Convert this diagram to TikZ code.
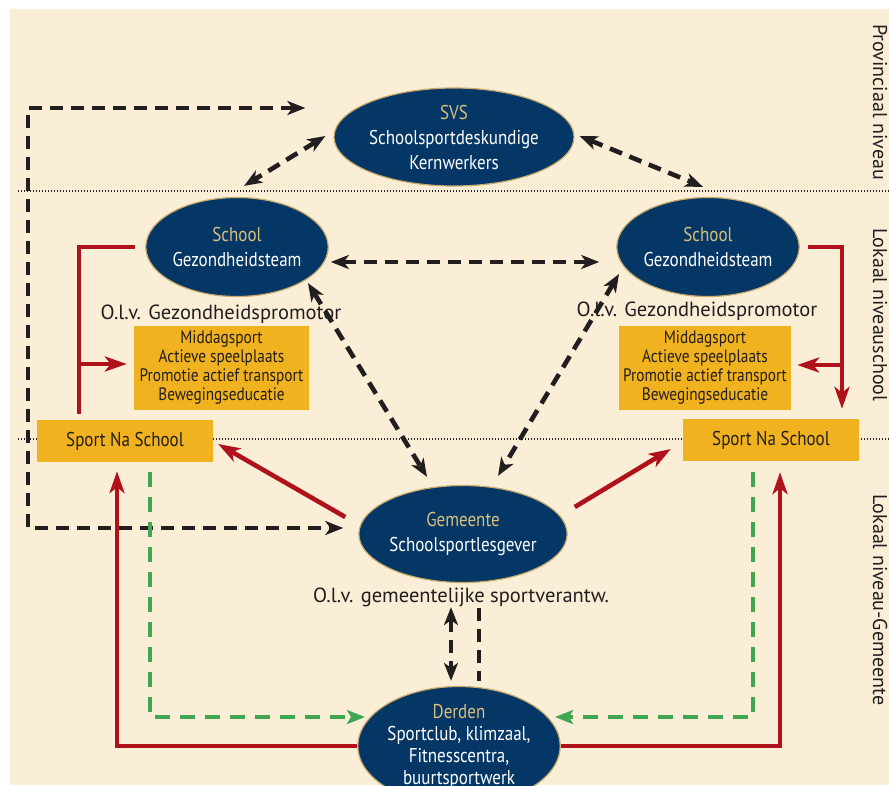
\documentclass[tikz,border=0pt]{standalone}
\usepackage{fontspec}
\setmainfont{PT Sans}
\newfontfamily\condfont[FakeStretch=0.85]{PT Sans}
\usetikzlibrary{arrows.meta,shapes.geometric}

\definecolor{cream}{RGB}{250,238,214}
\definecolor{navy}{RGB}{5,55,102}
\definecolor{rimgold}{RGB}{201,170,106}
\definecolor{labgold}{RGB}{217,190,124}
\definecolor{boxorange}{RGB}{241,178,32}
\definecolor{linered}{RGB}{176,18,27}
\definecolor{linegreen}{RGB}{64,166,82}
\definecolor{inkblack}{RGB}{34,30,31}

\tikzset{
  actor/.style={ellipse, fill=navy, draw=rimgold, line width=1.2pt, text=white, align=center, inner sep=0pt, font=\condfont\fontsize{20}{25}\selectfont},
  taskbox/.style={fill=boxorange, inner sep=0pt, align=center, text=inkblack},
  lead/.style={text=inkblack, inner sep=0pt, font=\fontsize{20.5}{24}\selectfont},
  levellabel/.style={rotate=-90, text=inkblack, inner sep=0pt, font=\fontsize{20}{24}\selectfont},
  levelline/.style={draw=inkblack, line width=1.1pt, dash pattern=on 1.1pt off 1.9pt},
  bplain/.style={draw=inkblack, line width=4.6pt, dash pattern=on 13pt off 8pt},
  bboth/.style={bplain, arrows={Stealth[length=18pt,width=14pt,inset=5pt]-Stealth[length=18pt,width=14pt,inset=5pt]}},
  rline/.style={draw=linered, line width=4.6pt},
  rarr/.style={rline, -{Stealth[length=22pt,width=15pt,inset=6pt]}},
  garr/.style={draw=linegreen, line width=4.5pt, dash pattern=on 15pt off 10pt, -{Stealth[length=18pt,width=14pt,inset=4pt]}}
}
\newcommand{\goldtxt}[1]{\textcolor{labgold}{#1}}

\begin{document}
\begin{tikzpicture}[x=1pt,y=-1pt]
\clip (0,0) rectangle (889,785);
\fill[white] (0,0) rectangle (889,785);
\fill[cream] (10,9) rectangle (889,785);

% levels
\draw[levelline] (18,191) -- (889,191);
\draw[levelline] (18,439) -- (889,439);
\node[levellabel] (provNiv) at (880,102) {Provinciaal niveau};
\node[levellabel] (schoolNiv) at (880,315) {Lokaal niveauschool};
\node[levellabel] (gemNiv) at (880,600) {Lokaal niveau-Gemeente};

% actors
\node[actor, minimum width=202pt, minimum height=98pt] (svs) at (454,137) {\goldtxt{SVS}\\Schoolsportdeskundige\\Kernwerkers};
\node[actor, minimum width=178pt, minimum height=99pt] (schoolL) at (237,247) {\goldtxt{School}\\Gezondheidsteam};
\node[actor, minimum width=178pt, minimum height=99pt] (schoolR) at (708,247) {\goldtxt{School}\\Gezondheidsteam};
\node[actor, minimum width=201pt, minimum height=97pt] (gemeente) at (463,534) {\goldtxt{Gemeente}\\Schoolsportlesgever};
\node[actor, minimum width=176pt, minimum height=100pt, font=\condfont\fontsize{20}{22}\selectfont] (derden) at (459,746) {\goldtxt{Derden}\\Sportclub, klimzaal,\\Fitnesscentra,\\buurtsportwerk};

\node[lead] (olvL) at (221,314) {O.l.v. Gezondheidspromotor};
\node[lead] (olvR) at (697,311) {O.l.v. Gezondheidspromotor};
\node[lead] (olvGem) at (461,597) {O.l.v. gemeentelijke sportverantw.};

% tasks
\node[taskbox, minimum width=175pt, minimum height=84pt, font=\condfont\fontsize{18}{19}\selectfont] (actL) at (221.5,368) {Middagsport\\Actieve speelplaats\\Promotie actief transport\\Bewegingseducatie};
\node[taskbox, minimum width=172pt, minimum height=84pt, font=\condfont\fontsize{18}{19}\selectfont] (actR) at (705,368) {Middagsport\\Actieve speelplaats\\Promotie actief transport\\Bewegingseducatie};
\node[taskbox, minimum width=176pt, minimum height=42pt, font=\condfont\fontsize{20}{24}\selectfont] (snsL) at (125,441) {Sport Na School};
\node[taskbox, minimum width=176pt, minimum height=42pt, font=\condfont\fontsize{20}{24}\selectfont] (snsR) at (771,440) {Sport Na School};

% black dashed links
\coordinate (loopL) at (28,528);
\draw[bboth] ([shift={(-28,-29)}]svs.west) -| (loopL) -- ([shift={(-15,-6)}]gemeente.west);
\draw[bboth] ([shift={(-8,-1)}]svs.west) -- ([shift={(7,-11)}]schoolL.north);
\draw[bboth] ([shift={(5,-1)}]svs.east) -- ([shift={(-5,-10)}]schoolR.north);
\draw[bboth] ([shift={(2,15)}]schoolL.east) -- ([shift={(-17,15)}]schoolR.west);
\draw[bboth] ([shift={(71,36)}]schoolL.center) -- ([shift={(-36,-8)}]gemeente.north);
\draw[bboth] ([shift={(-89,27)}]schoolR.center) -- ([shift={(35,-9)}]gemeente.north);
\draw[bboth] ([shift={(-12,24)}]gemeente.south) -- ([shift={(-8,-5)}]derden.north);
\draw[bplain] ([shift={(16,25)}]gemeente.south) -- ([shift={(20,-5)}]derden.north);

% red links
\draw[rline] ([xshift=-10pt]schoolL.west) -| ([shift={(-46,-6)}]snsL.north);
\coordinate (brL) at (79,364);
\draw[rarr] (brL) -- ([xshift=-7pt]brL -| actL.west);
\draw[rarr] ([xshift=8pt]schoolR.east) -| ([shift={(71,-10)}]snsR.north);
\coordinate (brR) at (842,365);
\draw[rarr] (brR) -- ([xshift=6pt]brR -| actR.east);
\draw[rarr] ([shift={(-13,-17)}]gemeente.west) -- ([shift={(5,3)}]snsL.east);
\draw[rarr] ([shift={(7,-27)}]gemeente.east) -- ([shift={(-12,9)}]snsR.west);
\draw[rarr] (derden.west) -| ([shift={(-8,9)}]snsL.south);
\draw[rarr] (derden.east) -| ([shift={(9,11)}]snsR.south);

% green links
\draw[garr] ([shift={(25,10)}]snsL.south) |- ([shift={(-94,-29)}]derden.center);
\draw[garr] ([shift={(-18,11)}]snsR.south) |- ([shift={(96,-29)}]derden.center);
\end{tikzpicture}
\end{document}
